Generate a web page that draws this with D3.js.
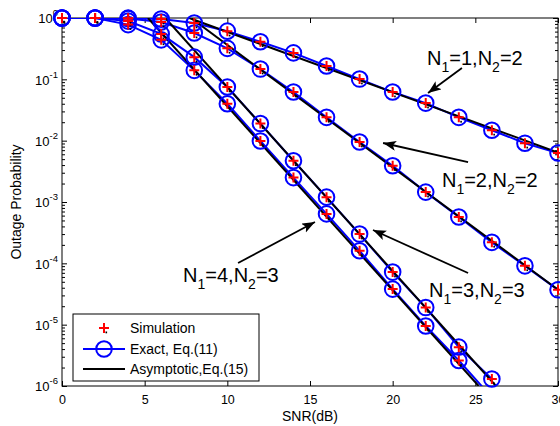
<!DOCTYPE html>
<html><head><meta charset="utf-8">
<script src="https://cdn.jsdelivr.net/npm/d3@7"></script>
<style>
html,body{margin:0;padding:0;background:#fff;}
svg{display:block;font-family:"Liberation Sans",Arial,sans-serif;}
</style></head>
<body><svg id="c" width="560" height="426"></svg>
<script>
// ---------- data ----------
const snr = [0,2,4,6,8,10,12,14,16,18,20,22,24,26,28,30];
const outN12 = [1,1,0.995,0.96,0.83,0.61,0.41,0.27,0.165,0.101,0.062,0.041,0.024,0.0148,0.0091,0.0063];
const outN22 = [1,1,0.98,0.86,0.57,0.32,0.147,0.062,0.024,0.0095,0.0039,0.00145,5.7e-4,2.2e-4,9.1e-5,3.7e-5];
const outN33 = [1,1,0.89,0.55,0.23,0.075,0.019,0.0047,0.0012,3.0e-4,7.2e-5,1.9e-5,4.3e-6,1.3e-6];
const outN43 = [1,0.998,0.78,0.44,0.14,0.04,0.0099,0.0025,6.4e-4,1.6e-4,3.8e-5,9.5e-6,2.6e-6,6.5e-7];
// asymptotic lines (endpoints)
const asymSnrN12 = [7.7,30],  asymN12 = [1,0.0064];
const asymSnrN22 = [7.8,30],  asymN22 = [1,3.7e-5];
const asymSnrN33 = [6.25,26.25], asymN33 = [1,1e-6];
const asymSnrN43 = [5.2,25.2],  asymN43 = [1,1e-6];
const xTicks = [0,5,10,15,20,25,30];
const yExp = [0,-1,-2,-3,-4,-5,-6];
const xLabel = "SNR(dB)", yLabel = "Outage Probability";
const legendLabels = ["Simulation","Exact, Eq.(11)","Asymptotic,Eq.(15)"];
// annotations: N1, N2, text position (snr, log10), arrow from/to (snr, log10)
const notes = [
  {n1:1,n2:2, tx:22.08, ty:-0.766, ax:24.19, ay:-0.815, bx:22.14, by:-1.223},
  {n1:2,n2:2, tx:22.98, ty:-2.755, ax:24.56, ay:-2.348, bx:19.42, by:-2.038},
  {n1:3,n2:3, tx:22.2,  ty:-4.549, ax:24.56, ay:-4.158, bx:18.81, by:-3.457},
  {n1:4,n2:3, tx:7.32,  ty:-4.304, ax:10.65, ay:-3.995, bx:15.30, by:-3.326}
];

// ---------- layout ----------
const L=62,R=558,T=18,B=386;
const svg = d3.select("#c");
const x = d3.scaleLinear().domain([0,30]).range([L,R]);
const y = d3.scaleLog().domain([1e-6,1]).range([B,T]);

svg.append("defs").append("clipPath").attr("id","clip")
  .append("rect").attr("x",L).attr("y",T).attr("width",R-L).attr("height",B-T);
const mk = svg.select("defs").append("marker").attr("id","ah")
  .attr("markerUnits","userSpaceOnUse").attr("markerWidth",14).attr("markerHeight",12)
  .attr("refX",13).attr("refY",5).attr("orient","auto");
mk.append("path").attr("d","M0,0 L13,5 L0,10 L3,5 Z").attr("fill","#000");

// axes
const minors = [];
for (let e=-6;e<0;e++) for (let k=2;k<10;k++) minors.push(k*Math.pow(10,e));
const majors = yExp.map(e=>Math.pow(10,e));
const ax = svg.append("g").attr("class","axes");
function clean(g){ g.select(".domain").remove(); g.selectAll("line").attr("stroke","#000"); }
ax.append("g").attr("transform",`translate(0,${B})`)
  .call(d3.axisBottom(x).tickValues(xTicks).tickSize(-5).tickPadding(9).tickFormat(d3.format("d")))
  .call(clean).call(g=>g.selectAll("text").attr("font-size",12.5).attr("fill","#000").attr("font-family","Liberation Sans, Arial, sans-serif"));
ax.append("g").attr("transform",`translate(0,${T})`)
  .call(d3.axisTop(x).tickValues(xTicks).tickSize(-5).tickFormat("")).call(clean);
ax.append("g").attr("transform",`translate(${L},0)`)
  .call(d3.axisLeft(y).tickValues(minors).tickSize(-3).tickFormat("")).call(clean);
ax.append("g").attr("transform",`translate(${R},0)`)
  .call(d3.axisRight(y).tickValues(minors).tickSize(-3).tickFormat("")).call(clean);
ax.append("g").attr("transform",`translate(${R},0)`)
  .call(d3.axisRight(y).tickValues(majors).tickSize(-5).tickFormat("")).call(clean);
const yl = ax.append("g").attr("transform",`translate(${L},0)`)
  .call(d3.axisLeft(y).tickValues(majors).tickSize(-5).tickPadding(4).tickFormat(()=>"")).call(clean);
yl.selectAll(".tick text").each(function(d){
  const t = d3.select(this).attr("font-size",13).attr("fill","#000").attr("dy","0.38em")
     .attr("font-family","Liberation Sans, Arial, sans-serif");
  t.append("tspan").text("10");
  t.append("tspan").attr("dy",-7).attr("font-size",9.5).text(Math.round(Math.log10(d)));
});

svg.append("rect").attr("x",L).attr("y",T).attr("width",R-L).attr("height",B-T)
  .attr("fill","none").attr("stroke","#000").attr("stroke-width",1);

// axis titles
svg.append("text").attr("x",(L+R)/2).attr("y",421).attr("text-anchor","middle")
  .attr("font-size",14).text(xLabel);
svg.append("text").attr("transform",`translate(21,${(T+B)/2}) rotate(-90)`)
  .attr("text-anchor","middle").attr("font-size",14).text(yLabel);

// series
const series = [outN12,outN22,outN33,outN43];
const asyms = [[asymSnrN12,asymN12],[asymSnrN22,asymN22],[asymSnrN33,asymN33],[asymSnrN43,asymN43]];
const plot = svg.append("g").attr("clip-path","url(#clip)");
const line = d3.line().x(d=>x(d[0])).y(d=>y(d[1]));
series.forEach(s=>{
  const pts = s.map((v,i)=>[snr[i],v]);
  plot.append("path").attr("d",line(pts)).attr("fill","none").attr("stroke","#0000ff").attr("stroke-width",2);
});
series.forEach(s=>{
  const pts = s.map((v,i)=>[snr[i],v]).filter(p=>p[1]>=1e-6);
  svg.append("g").selectAll("circle").data(pts).join("circle")
    .attr("cx",d=>x(d[0])).attr("cy",d=>y(d[1])).attr("r",7.8)
    .attr("fill","none").attr("stroke","#0000ff").attr("stroke-width",2);
});
function plus(g,cx,cy){
  g.append("path").attr("d",`M${cx-5},${cy}H${cx+5}M${cx},${cy-5}V${cy+5}`)
   .attr("stroke","#ff0000").attr("stroke-width",2);
  g.append("rect").attr("x",cx+1.5).attr("y",cy+3.5).attr("width",1.6).attr("height",1.8).attr("fill","#000");
}
series.forEach(s=>{
  const g = svg.append("g");
  s.forEach((v,i)=>{ if(v>=1e-6) plus(g,x(snr[i]),y(v)); });
});
asyms.forEach(a=>{
  const pts = a[0].map((v,i)=>[v,a[1][i]]);
  plot.append("path").attr("d",line(pts)).attr("fill","none").attr("stroke","#000").attr("stroke-width",2);
});

// annotations
notes.forEach(n=>{
  svg.append("line").attr("x1",x(n.ax)).attr("y1",y(10**n.ay)).attr("x2",x(n.bx)).attr("y2",y(10**n.by))
    .attr("stroke","#000").attr("stroke-width",1.8).attr("marker-end","url(#ah)");
  const t = svg.append("text").attr("x",x(n.tx)).attr("y",y(10**n.ty)).attr("font-size",20);
  t.append("tspan").text("N");
  t.append("tspan").attr("dy",7).attr("font-size",14).text("1");
  t.append("tspan").attr("dy",-7).text("="+n.n1+",N");
  t.append("tspan").attr("dy",7).attr("font-size",14).text("2");
  t.append("tspan").attr("dy",-7).text("="+n.n2);
});

// legend
const lg = svg.append("g");
lg.append("rect").attr("x",73).attr("y",314).attr("width",186).attr("height",67)
  .attr("fill","#fff").attr("stroke","#000").attr("stroke-width",1);
const rows=[328,349,369];
plus(lg,104,rows[0]);
lg.append("line").attr("x1",83).attr("x2",125).attr("y1",rows[1]).attr("y2",rows[1]).attr("stroke","#0000ff").attr("stroke-width",2);
lg.append("circle").attr("cx",104).attr("cy",rows[1]).attr("r",7.8).attr("fill","none").attr("stroke","#0000ff").attr("stroke-width",2);
lg.append("line").attr("x1",83).attr("x2",125).attr("y1",rows[2]).attr("y2",rows[2]).attr("stroke","#000").attr("stroke-width",2);
legendLabels.forEach((s,i)=>lg.append("text").attr("x",130).attr("y",rows[i]+5).attr("font-size",14).text(s));
</script></body></html>
